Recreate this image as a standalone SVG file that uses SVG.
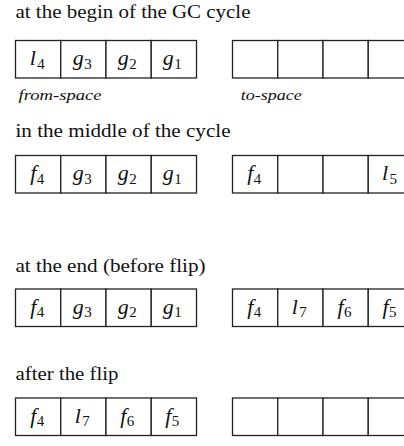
<svg xmlns="http://www.w3.org/2000/svg" width="404" height="446" viewBox="0 0 404 446">
<style>
.t{font-family:"Liberation Serif","Times New Roman",serif;font-size:18px;fill:#111}
.s{font-family:"Liberation Serif","Times New Roman",serif;font-size:14.5px;font-style:italic;fill:#111}
.m{font-family:"Liberation Serif","Times New Roman",serif;font-size:22px;font-style:italic;fill:#111;text-anchor:middle}
.sub{font-style:normal;font-size:15px}
.c{fill:#fff;stroke:#222;stroke-width:1.3}
</style>
<defs>
<g id="row">
<rect class="c" x="0" y="0" width="45.25" height="37.5"/>
<rect class="c" x="45.25" y="0" width="45.25" height="37.5"/>
<rect class="c" x="90.5" y="0" width="45.25" height="37.5"/>
<rect class="c" x="135.75" y="0" width="45.25" height="37.5"/>
</g>
</defs>
<text class="t" x="15.5" y="17.5" textLength="235" lengthAdjust="spacingAndGlyphs">at the begin of the GC cycle</text>
<g id="n1-from"><use href="#row" x="15.5" y="40.5"/>
<text class="m" x="37.2" y="65">l<tspan class="sub" dx="1.5" dy="3.5">4</tspan></text>
<text class="m" x="82.3" y="65">g<tspan class="sub" dx="0.5" dy="3.5">3</tspan></text>
<text class="m" x="127.3" y="65">g<tspan class="sub" dx="0.5" dy="3.5">2</tspan></text>
<text class="m" x="172.3" y="65">g<tspan class="sub" dx="0.5" dy="3.5">1</tspan></text>
</g>
<g id="n1-to"><use href="#row" x="232.5" y="40.5"/></g>
<text class="s" x="18.5" y="100" textLength="83" lengthAdjust="spacingAndGlyphs">from-space</text>
<text class="s" x="240.7" y="100" textLength="61" lengthAdjust="spacingAndGlyphs">to-space</text>

<text class="t" x="15.5" y="136.5" textLength="215" lengthAdjust="spacingAndGlyphs">in the middle of the cycle</text>
<g id="n2-from"><use href="#row" x="15.5" y="155.5"/>
<text class="m" x="37.2" y="180">f<tspan class="sub" dx="0.5" dy="3.5">4</tspan></text>
<text class="m" x="82.3" y="180">g<tspan class="sub" dx="0.5" dy="3.5">3</tspan></text>
<text class="m" x="127.3" y="180">g<tspan class="sub" dx="0.5" dy="3.5">2</tspan></text>
<text class="m" x="172.3" y="180">g<tspan class="sub" dx="0.5" dy="3.5">1</tspan></text>
</g>
<g id="n2-to"><use href="#row" x="232.5" y="155.5"/>
<text class="m" x="254.2" y="180">f<tspan class="sub" dx="0.5" dy="3.5">4</tspan></text>
<text class="m" x="389.5" y="180">l<tspan class="sub" dx="1.5" dy="3.5">5</tspan></text>
</g>

<text class="t" x="15.5" y="272" textLength="190" lengthAdjust="spacingAndGlyphs">at the end (before flip)</text>
<g id="n3-from"><use href="#row" x="15.5" y="289"/>
<text class="m" x="37.2" y="313.5">f<tspan class="sub" dx="0.5" dy="3.5">4</tspan></text>
<text class="m" x="82.3" y="313.5">g<tspan class="sub" dx="0.5" dy="3.5">3</tspan></text>
<text class="m" x="127.3" y="313.5">g<tspan class="sub" dx="0.5" dy="3.5">2</tspan></text>
<text class="m" x="172.3" y="313.5">g<tspan class="sub" dx="0.5" dy="3.5">1</tspan></text>
</g>
<g id="n3-to"><use href="#row" x="232.5" y="289"/>
<text class="m" x="254.2" y="313.5">f<tspan class="sub" dx="0.5" dy="3.5">4</tspan></text>
<text class="m" x="299.3" y="313.5">l<tspan class="sub" dx="1.5" dy="3.5">7</tspan></text>
<text class="m" x="344.5" y="313.5">f<tspan class="sub" dx="0.5" dy="3.5">6</tspan></text>
<text class="m" x="389.5" y="313.5">f<tspan class="sub" dx="0.5" dy="3.5">5</tspan></text>
</g>

<text class="t" x="15.5" y="380" textLength="103" lengthAdjust="spacingAndGlyphs">after the flip</text>
<g id="n4-from"><use href="#row" x="15.5" y="398"/>
<text class="m" x="37.2" y="422.5">f<tspan class="sub" dx="0.5" dy="3.5">4</tspan></text>
<text class="m" x="82.3" y="422.5">l<tspan class="sub" dx="1.5" dy="3.5">7</tspan></text>
<text class="m" x="127.3" y="422.5">f<tspan class="sub" dx="0.5" dy="3.5">6</tspan></text>
<text class="m" x="172.3" y="422.5">f<tspan class="sub" dx="0.5" dy="3.5">5</tspan></text>
</g>
<g id="n4-to"><use href="#row" x="232.5" y="398"/></g>
</svg>
